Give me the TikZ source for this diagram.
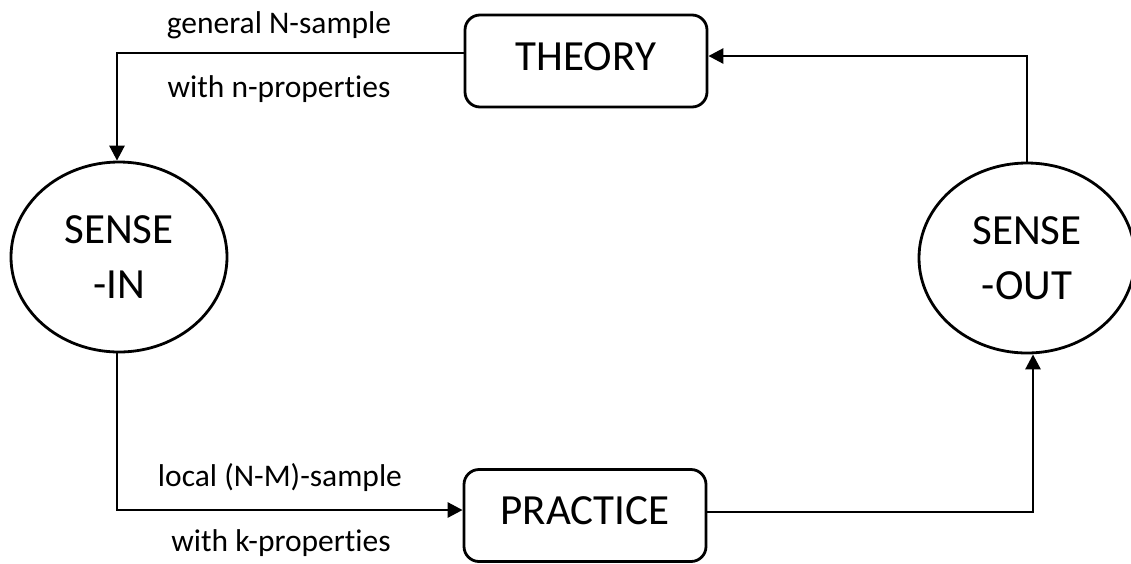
\documentclass[tikz,border=0pt]{standalone}
\usepackage{fontspec}
\setmainfont{Carlito}[Ligatures=NoCommon]
\usetikzlibrary{arrows.meta,shapes.geometric}
\begin{document}
\begin{tikzpicture}[x=1pt,y=-1pt,
  conn/.style={line width=2.8pt},
  arr/.style={conn,-{Triangle[length=15pt,width=15pt]}},
  boxnode/.style={draw,line width=2.8pt,rounded corners=15pt,minimum width=242pt,minimum height=92pt,inner sep=0pt,font=\fontsize{43}{50}\selectfont,text height=27.5pt,text depth=9pt},
  ellnode/.style={draw,ellipse,line width=2.8pt,minimum width=216pt,minimum height=190pt,inner sep=0pt,align=center,font=\fontsize{43}{55}\selectfont},
  lbl/.style={anchor=base,font=\fontsize{31.5}{36}\selectfont,inner sep=0pt}]
\useasboundingbox (0,0) rectangle (1131,563);
\node[boxnode] (theory) at (586,61) {THEORY};
\node[boxnode] (practice) at (585,515.5) {PRACTICE};
\node[ellnode] (sin) at (119,257) {SENSE\\-IN};
\node[ellnode] (sout) at (1027,258) {SENSE\\-OUT};
\node[lbl] (l1) at (279,33) {general N-sample};
\node[lbl] (l2) at (279,97) {with n-properties};
\node[lbl] (l3) at (280,486) {local (N-M)-sample};
\node[lbl] (l4) at (281,551) {with k-properties};
\draw[arr] ([yshift=8pt]theory.west) -| ([xshift=-2pt]sin.north);
\draw[arr] ([xshift=-2pt]sin.south) |- ([yshift=5.5pt]practice.west);
\draw[arr] ([yshift=3.5pt]practice.east) -| ([xshift=6pt]sout.south);
\draw[arr] (sout.north) |- ([yshift=5pt]theory.east);
\end{tikzpicture}
\end{document}
